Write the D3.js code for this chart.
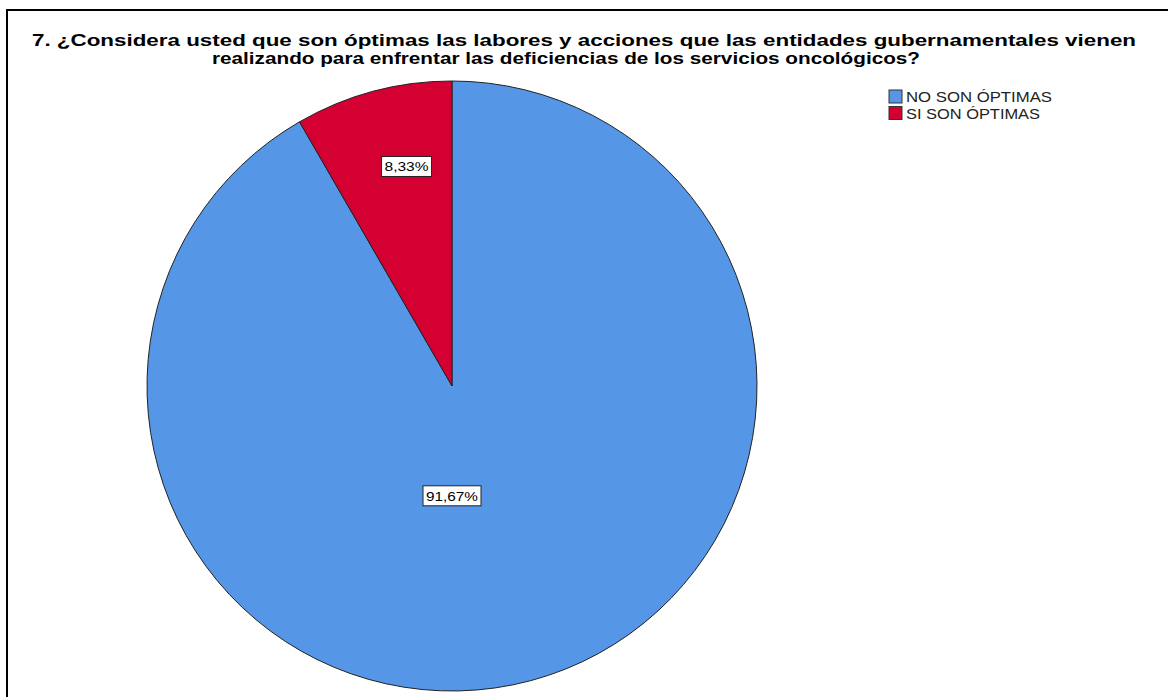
<!DOCTYPE html>
<html>
<head>
<meta charset="utf-8">
<script src="https://cdn.jsdelivr.net/npm/d3@7"></script>
<style>
html,body{margin:0;padding:0;background:#fff;}
svg{display:block;}
</style>
</head>
<body>
<svg id="chart" width="1168" height="697"></svg>
<script>
const categories = ["NO SON ÓPTIMAS", "SI SON ÓPTIMAS"];
const values = [91.67, 8.33];
const valueLabels = ["91,67%", "8,33%"];
const colors = ["#5596E6", "#D50032"];
const titleLines = [
  "7. ¿Considera usted que son óptimas las labores y acciones que las entidades gubernamentales vienen",
  "realizando para enfrentar las deficiencias de los servicios oncológicos?"
];

const W = 1168, H = 697;
const cx = 452, cy = 386, R = 305;
const FONT = "Liberation Sans, Arial, sans-serif";
// title line layout: center x, baseline y, target width
const titleLayout = [{x: 584, y: 46, w: 1104}, {x: 566, y: 64, w: 708}];
// label placement (polar: angle in degrees from 12 o'clock, radius fraction)
const labelPlace = [{ang: 180, rf: 0.36}, {ang: -11.7, rf: 0.735}];

const svg = d3.select("#chart");

// frame
svg.append("rect").attr("x", 7).attr("y", 10).attr("width", W + 10).attr("height", H + 10)
  .attr("fill", "none").attr("stroke", "#000").attr("stroke-width", 2);

// title
titleLines.forEach((t, i) => {
  const L = titleLayout[i];
  svg.append("text").attr("font-family", FONT).attr("font-weight", "bold")
    .attr("font-size", 16.5).attr("fill", "#000").attr("text-anchor", "middle")
    .attr("x", L.x).attr("y", L.y)
    .attr("textLength", L.w).attr("lengthAdjust", "spacingAndGlyphs").text(t);
});

// pie
const pie = d3.pie().sort(null).value(d => d);
const arcs = pie(values);
const arc = d3.arc().innerRadius(0).outerRadius(R);
const g = svg.append("g").attr("transform", `translate(${cx},${cy})`);
g.selectAll("path").data(arcs).enter().append("path")
  .attr("d", arc).attr("fill", (d, i) => colors[i])
  .attr("stroke", "#222").attr("stroke-width", 1);

// labels
const labelW = [52, 44];
arcs.forEach((d, i) => {
  const p = labelPlace[i];
  const a = p.ang * Math.PI / 180;
  const x = Math.sin(a) * R * p.rf;
  const y = -Math.cos(a) * R * p.rf;
  const lg = g.append("g").attr("transform", `translate(${x},${y})`);
  const t = lg.append("text").attr("font-family", FONT)
    .attr("font-size", 13.5).attr("fill", "#000").attr("text-anchor", "middle")
    .attr("dy", "0.36em").attr("textLength", labelW[i]).attr("lengthAdjust", "spacingAndGlyphs")
    .text(valueLabels[i]);
  lg.insert("rect", "text").attr("x", -labelW[i] / 2 - 3).attr("y", -10)
    .attr("width", labelW[i] + 6).attr("height", 20)
    .attr("fill", "#fff").attr("stroke", "#222").attr("stroke-width", 1);
});

// legend
const leg = svg.append("g").attr("transform", "translate(889,90)");
categories.forEach((c, i) => {
  const row = leg.append("g").attr("transform", `translate(0,${i * 16.5})`);
  row.append("rect").attr("x", 0).attr("y", 0).attr("width", 13).attr("height", 13)
    .attr("fill", colors[i]).attr("stroke", "#333").attr("stroke-width", 1);
  row.append("text").attr("x", 17).attr("y", 12)
    .attr("font-family", FONT).attr("font-size", 14)
    .attr("textLength", i === 0 ? 146 : 134).attr("lengthAdjust", "spacingAndGlyphs")
    .attr("fill", "#222").text(c);
});
</script>
</body>
</html>
